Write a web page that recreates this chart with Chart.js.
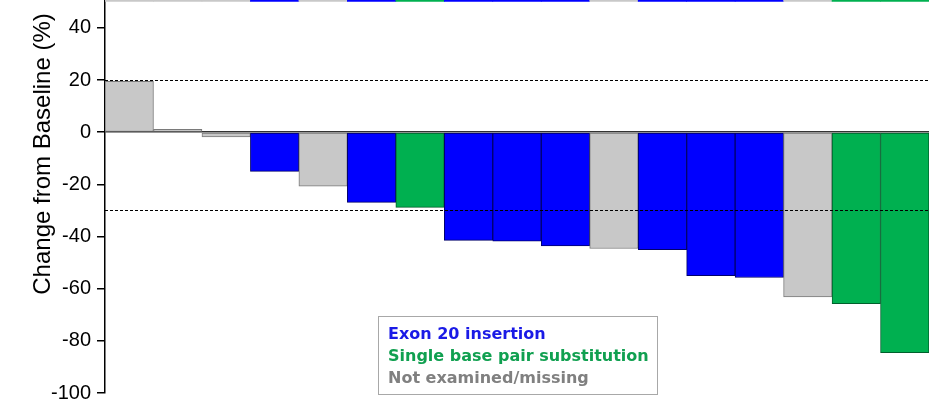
<!DOCTYPE html>
<html>
<head>
<meta charset="utf-8">
<script src="https://cdn.jsdelivr.net/npm/chart.js@4.4.1/dist/chart.umd.min.js"></script>
<style>
  html, body { margin: 0; padding: 0; background: #fff; }
  #wrap { width: 930px; height: 404px; position: relative; }
</style>
</head>
<body>
<div id="wrap"><canvas id="waterfall"></canvas></div>
<script>
  // Best change from baseline per patient, sorted high to low
  const patients = ['P1', 'P2', 'P3', 'P4', 'P5', 'P6', 'P7', 'P8', 'P9', 'P10', 'P11', 'P12', 'P13', 'P14', 'P15', 'P16', 'P17'];
  const changes = [19.5, 1.1, -1.8, -15, -20.7, -26.9, -28.8, -41.5, -41.8, -43.6, -44.6, -45, -55, -55.7, -63.2, -65.7, -84.5];
  const mutations = ['missing', 'missing', 'missing', 'exon20', 'missing', 'exon20', 'single', 'exon20', 'exon20', 'exon20', 'missing', 'exon20', 'exon20', 'exon20', 'missing', 'single', 'single'];
  const yTicks = [-100, -80, -60, -40, -20, 0, 20, 40];
  const cutoffs = [20, -30];

  const legendItems = [
    { key: 'exon20', text: 'Exon 20 insertion' },
    { key: 'single', text: 'Single base pair substitution' },
    { key: 'missing', text: 'Not examined/missing' }
  ];

  const fills = { exon20: '#0000ff', single: '#00b050', missing: '#c8c8c8' };
  const edges = { exon20: '#00006a', single: '#00602c', missing: '#7a7a7a' };
  const textColors = { exon20: '#1a1ae6', single: '#10a050', missing: '#808080' };

  // dashed response cut-offs, the rotated axis title and the boxed key
  const extras = {
    id: 'extras',
    afterDatasetsDraw(chart) {
      const ctx = chart.ctx;
      const area = chart.chartArea;
      const y = chart.scales.y;
      ctx.save();
      ctx.strokeStyle = '#000';
      ctx.lineWidth = 1;
      ctx.setLineDash([3, 2]);
      cutoffs.forEach(v => {
        const py = Math.round(y.getPixelForValue(v)) + 0.5;
        ctx.beginPath();
        ctx.moveTo(area.left, py);
        ctx.lineTo(area.right, py);
        ctx.stroke();
      });
      ctx.setLineDash([]);

      ctx.translate(43, 154);
      ctx.rotate(-Math.PI / 2);
      ctx.fillStyle = '#000';
      ctx.font = '24px "Liberation Sans", Arial, sans-serif';
      ctx.textAlign = 'center';
      ctx.textBaseline = 'middle';
      ctx.fillText('Change from Baseline (%)', 0, 0);
      ctx.restore();

      ctx.save();
      ctx.fillStyle = '#fff';
      ctx.fillRect(378, 316, 279, 78);
      ctx.strokeStyle = '#a8a8a8';
      ctx.lineWidth = 1;
      ctx.strokeRect(378.5, 316.5, 279, 78);
      ctx.font = 'bold 16px "DejaVu Sans", Verdana, sans-serif';
      ctx.textAlign = 'left';
      ctx.textBaseline = 'alphabetic';
      legendItems.forEach((item, i) => {
        ctx.fillStyle = textColors[item.key];
        ctx.fillText(item.text, 388, 339 + i * 22);
      });
      ctx.restore();
    }
  };

  const data = {
    labels: patients,
    datasets: [{
      label: 'Change from baseline',
      data: changes,
      backgroundColor: mutations.map(m => fills[m]),
      borderColor: mutations.map(m => edges[m]),
      borderWidth: 1,
      borderSkipped: false,
      barPercentage: 1,
      categoryPercentage: 1,
      grouped: false
    }, {
      // thin colour strip along the top edge
      label: 'strip',
      data: patients.map(() => [50.2, 51]),
      backgroundColor: mutations.map(m => fills[m]),
      borderWidth: 0,
      barPercentage: 1,
      categoryPercentage: 1,
      grouped: false
    }]
  };

  const config = {
    type: 'bar',
    data: data,
    options: {
      responsive: false,
      animation: false,
      layout: { padding: { top: 0, right: 1, bottom: 11, left: 0 } },
      plugins: {
        legend: { display: false },
        tooltip: { enabled: false }
      },
      scales: {
        x: { display: false },
        y: {
          min: -100,
          max: 50.7,
          afterFit(scale) {
            scale.width = 105;
            scale.paddingTop = 0;
            scale.paddingBottom = 0;
          },
          afterBuildTicks(scale) { scale.ticks = yTicks.map(v => ({ value: v })); },
          border: { color: '#000', width: 1.5 },
          grid: {
            color: c => (c.tick && c.tick.value === 0 ? '#333' : 'rgba(0,0,0,0)'),
            tickColor: '#000',
            tickLength: 8,
            lineWidth: 1.5
          },
          ticks: {
            color: '#000',
            padding: 6,
            font: { family: '"Liberation Sans", Arial, sans-serif', size: 20 }
          }
        }
      }
    },
    plugins: [extras]
  };

  const canvas = document.getElementById('waterfall');
  canvas.width = 930;
  canvas.height = 404;
  const waterfall = new Chart(canvas, config);
</script>
</body>
</html>
